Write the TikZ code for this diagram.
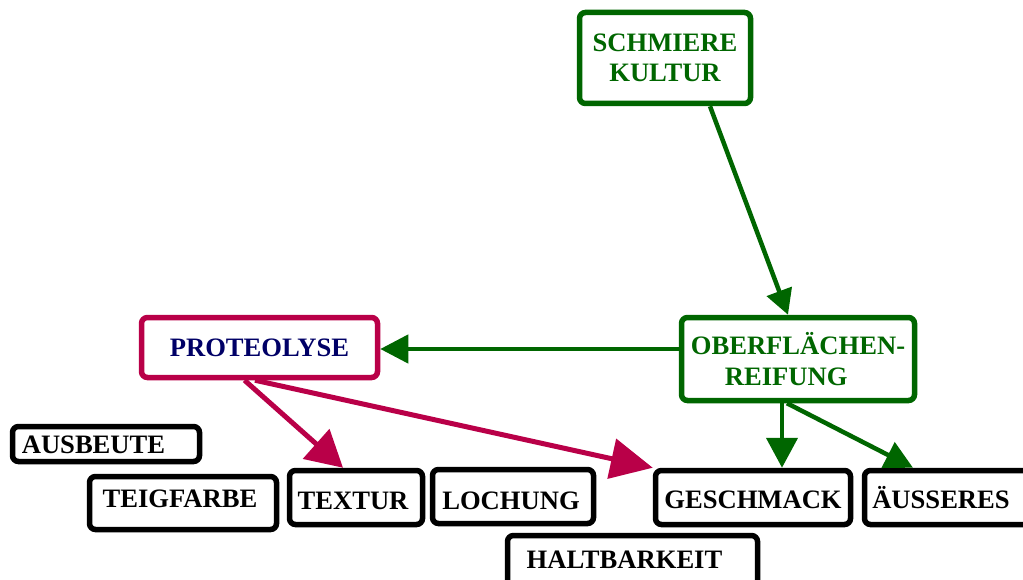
\documentclass[tikz,border=0pt]{standalone}
\usepackage{fontspec}
\setmainfont{Liberation Serif}
\usetikzlibrary{arrows.meta}
\definecolor{dgreen}{RGB}{0,102,0}
\definecolor{crim}{RGB}{185,0,72}
\definecolor{navy}{RGB}{0,0,102}
\begin{document}
\begin{tikzpicture}[x=1pt,y=-1pt,
  box/.style={draw, line width=5.5pt, rounded corners=6pt, inner sep=0pt,
    font=\bfseries\fontsize{26.6}{30.5}\selectfont},
  sbox/.style={box, text height=18pt, text depth=0pt},
  garrow/.style={dgreen, line width=4.5pt, -{Triangle[length=28pt,width=28pt]}},
  parrow/.style={crim, line width=5pt, -{Triangle[length=40pt,width=40pt]}}]
\useasboundingbox (0,0) rectangle (1023,580);
\clip (0,0) rectangle (1023,580);

\node[box, dgreen, align=center, minimum width=171pt, minimum height=91pt] (schm) at (665,58) {SCHMIERE\\KULTUR};
\node[box, dgreen, align=left, minimum width=233pt, minimum height=83pt] (ober) at (798,359) {OBERFLÄCHEN-\\\hspace*{34pt}REIFUNG};
\node[sbox, crim, text=navy, minimum width=236pt, minimum height=60pt] (prot) at (259.5,347.5) {PROTEOLYSE};
\node[sbox, minimum width=187pt, minimum height=35pt] (aus) at (106,444) {AUSBEUTE\hspace*{25pt}};
\node[sbox, text height=8pt, minimum width=187pt, minimum height=53pt] (teig) at (183,503) {TEIGFARBE\hspace*{6pt}};
\node[sbox, text height=23pt, minimum width=133pt, minimum height=54pt] (textur) at (356,497.5) {TEXTUR\hspace*{6pt}};
\node[sbox, text height=25pt, minimum width=161pt, minimum height=54pt] (loch) at (513,496.5) {LOCHUNG\hspace*{4pt}};
\node[sbox, text height=21pt, minimum width=195pt, minimum height=54pt] (gesch) at (753,497.5) {GESCHMACK};
\node[sbox, text height=21pt, minimum width=168pt, minimum height=54pt] (auss) at (948.5,497.5) {ÄUSSERES\hspace*{15pt}};
\node[sbox, text height=11pt, minimum width=250pt, minimum height=54pt] (halt) at (632.5,562.5) {HALTBARKEIT\hspace*{16pt}};

\draw[garrow, -{Triangle[length=25pt,width=26pt]}] ([xshift=45pt]schm.south) -- ([xshift=-10pt]ober.north);
\draw[garrow] ([yshift=10pt]ober.west) -- ([yshift=-1.5pt]prot.east);
\draw[garrow, -{Triangle[length=30pt,width=31pt]}] ([xshift=-16pt]ober.south) -- ([xshift=29pt]gesch.north);
\draw[garrow] ([xshift=-11pt]ober.south) -- ([xshift=-35.5pt]auss.north);
\draw[parrow, -{Triangle[length=36pt,width=39pt]}] ([xshift=-15pt]prot.south) -- ([xshift=-13pt]textur.north);
\draw[parrow, -{Triangle[length=42pt,width=40pt]}] ([xshift=-4.5pt]prot.south) -- (gesch.north west);
\end{tikzpicture}
\end{document}
